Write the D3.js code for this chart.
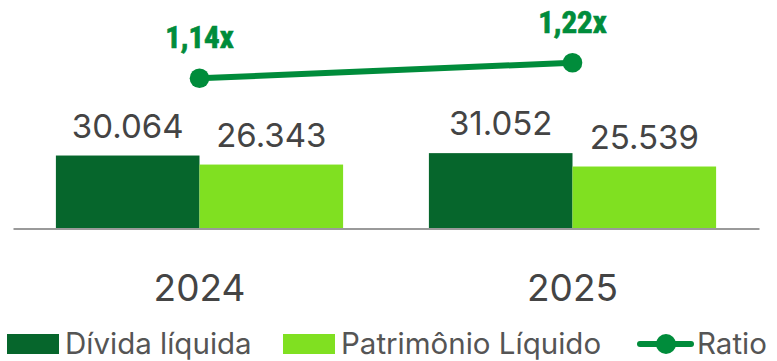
<!DOCTYPE html>
<html>
<head>
<meta charset="utf-8">
<script src="https://cdn.jsdelivr.net/npm/d3@7"></script>
<style>
  html, body { margin: 0; padding: 0; background: #fff; }
  svg { display: block; }
</style>
</head>
<body>
<svg id="chart" width="777" height="361"></svg>
<script>
// Net debt vs. equity by year, with the leverage ratio on top
const years = ["2024", "2025"];
const seriesNames = ["Dívida líquida", "Patrimônio Líquido"];
const dividaLiquida = [30064, 31052];
const patrimonioLiquido = [26343, 25539];
const ratio = [1.14, 1.22];
const valueLabels = [["30.064", "26.343"], ["31.052", "25.539"]];
const ratioLabels = ["1,14x", "1,22x"];

const colors = { divida: "#06662C", patrimonio: "#80E021", ratio: "#008C3B", text: "#444444", legend: "#555555" };
const textFont = "Inter, Roboto, 'Liberation Sans', sans-serif";

const svg = d3.select("#chart");
const baseY = 228.5;

// Outer band per year, inner band per series
const x0 = d3.scaleBand().domain(years).range([13, 759]).paddingInner(0.23).paddingOuter(0.115);
const x1 = d3.scaleBand().domain(seriesNames).range([0, x0.bandwidth()]);
const y = d3.scaleLinear().domain([0, 40000]).range([baseY, baseY - 40000 / 412]);
const yRatio = d3.scaleLinear().domain([0, 1.22]).range([300.6, 62.7]);

const rows = years.map((yr, i) => ({
  year: yr,
  values: [dividaLiquida[i], patrimonioLiquido[i]],
  labels: valueLabels[i]
}));

const groups = svg.selectAll("g.year").data(rows).join("g")
  .attr("class", "year")
  .attr("transform", d => `translate(${x0(d.year)},0)`);

groups.selectAll("rect").data(d => d.values.map((v, j) => ({ v, name: seriesNames[j], j }))).join("rect")
  .attr("x", d => x1(d.name))
  .attr("width", x1.bandwidth())
  .attr("y", d => y(d.v))
  .attr("height", d => baseY - y(d.v))
  .attr("fill", d => d.j === 0 ? colors.divida : colors.patrimonio);

groups.selectAll("text.val").data(d => d.values.map((v, j) => ({ v, name: seriesNames[j], label: d.labels[j] }))).join("text")
  .attr("class", "val")
  .attr("x", d => x1(d.name) + x1.bandwidth() / 2)
  .attr("y", d => y(d.v) - 18)
  .attr("text-anchor", "middle")
  .attr("font-family", textFont)
  .attr("font-size", 33)
  .attr("fill", colors.text)
  .text(d => d.label);

// Category axis
const axis = svg.append("g")
  .attr("transform", `translate(0,${baseY})`)
  .call(d3.axisBottom(x0).tickSize(0).tickSizeOuter(0).tickPadding(46));
axis.select(".domain").attr("stroke", "#9a9a9a").attr("stroke-width", 2);
axis.selectAll(".tick text")
  .attr("font-family", textFont)
  .attr("font-size", 37)
  .attr("fill", colors.text);

// Ratio line, anchored at the boundary between the two bars of each year
const rx = i => x0(years[i]) + x1.bandwidth();
const pts = ratio.map((r, i) => ({ x: rx(i), y: yRatio(r), r, label: ratioLabels[i] }));

svg.append("path")
  .attr("d", d3.line().x(d => d.x).y(d => d.y)(pts))
  .attr("fill", "none")
  .attr("stroke", colors.ratio)
  .attr("stroke-width", 6);

svg.selectAll("circle.pt").data(pts).join("circle")
  .attr("class", "pt")
  .attr("cx", d => d.x)
  .attr("cy", d => d.y)
  .attr("r", 9.8)
  .attr("fill", colors.ratio);

svg.selectAll("text.ratio").data(pts).join("text")
  .attr("class", "ratio")
  .attr("x", d => d.x)
  .attr("y", d => d.y - 30)
  .attr("text-anchor", "middle")
  .attr("font-family", "'Liberation Sans Narrow', 'Roboto Condensed', 'Liberation Sans', sans-serif")
  .attr("font-weight", "bold")
  .attr("font-size", 31)
  .attr("fill", colors.ratio)
  .attr("stroke", colors.ratio)
  .attr("stroke-width", 0.7)
  .text(d => d.label);

// Legend
const legend = svg.append("g").attr("font-family", textFont).attr("font-size", 29.5).attr("fill", colors.legend);
const swatches = [
  { x: 7, color: colors.divida, label: seriesNames[0] },
  { x: 283, color: colors.patrimonio, label: seriesNames[1] }
];
swatches.forEach(s => {
  legend.append("rect").attr("x", s.x).attr("y", 334).attr("width", 52).attr("height", 20).attr("fill", s.color);
  legend.append("text").attr("x", s.x + 58).attr("y", 354).text(s.label);
});
legend.append("line").attr("x1", 640).attr("x2", 691).attr("y1", 344).attr("y2", 344)
  .attr("stroke", colors.ratio).attr("stroke-width", 6).attr("stroke-linecap", "round");
legend.append("circle").attr("cx", 666).attr("cy", 344).attr("r", 10).attr("fill", colors.ratio);
legend.append("text").attr("x", 697).attr("y", 354).text("Ratio");
</script>
</body>
</html>
